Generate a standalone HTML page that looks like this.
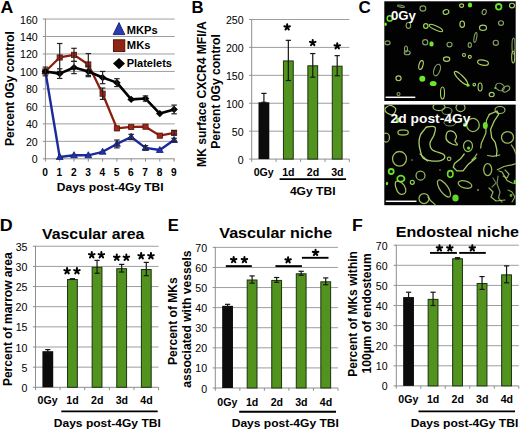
<!DOCTYPE html>
<html><head><meta charset="utf-8"><style>
html,body{margin:0;padding:0;background:#fff;width:520px;height:431px;overflow:hidden}
svg{display:block;font-family:"Liberation Sans", sans-serif}
</style></head><body>
<svg width="520" height="431" viewBox="0 0 520 431" font-family='"Liberation Sans", sans-serif'>
<rect width="520" height="431" fill="#fff"/>
<line x1="42.80" y1="158.80" x2="45.40" y2="158.80" stroke="#8e8e8e" stroke-width="1"/>
<text x="31.82" y="163.30" font-size="10.6" font-weight="normal" fill="#000">0</text>
<line x1="45.40" y1="141.33" x2="174.70" y2="141.33" stroke="#9e9e9e" stroke-width="1"/>
<line x1="42.80" y1="141.33" x2="45.40" y2="141.33" stroke="#8e8e8e" stroke-width="1"/>
<text x="25.92" y="145.83" font-size="10.6" font-weight="normal" fill="#000">20</text>
<line x1="45.40" y1="123.86" x2="174.70" y2="123.86" stroke="#9e9e9e" stroke-width="1"/>
<line x1="42.80" y1="123.86" x2="45.40" y2="123.86" stroke="#8e8e8e" stroke-width="1"/>
<text x="25.92" y="128.36" font-size="10.6" font-weight="normal" fill="#000">40</text>
<line x1="45.40" y1="106.39" x2="174.70" y2="106.39" stroke="#9e9e9e" stroke-width="1"/>
<line x1="42.80" y1="106.39" x2="45.40" y2="106.39" stroke="#8e8e8e" stroke-width="1"/>
<text x="25.92" y="110.89" font-size="10.6" font-weight="normal" fill="#000">60</text>
<line x1="45.40" y1="88.92" x2="174.70" y2="88.92" stroke="#9e9e9e" stroke-width="1"/>
<line x1="42.80" y1="88.92" x2="45.40" y2="88.92" stroke="#8e8e8e" stroke-width="1"/>
<text x="25.92" y="93.42" font-size="10.6" font-weight="normal" fill="#000">80</text>
<line x1="45.40" y1="71.45" x2="174.70" y2="71.45" stroke="#9e9e9e" stroke-width="1"/>
<line x1="42.80" y1="71.45" x2="45.40" y2="71.45" stroke="#8e8e8e" stroke-width="1"/>
<text x="20.03" y="75.95" font-size="10.6" font-weight="normal" fill="#000">100</text>
<line x1="45.40" y1="53.98" x2="174.70" y2="53.98" stroke="#9e9e9e" stroke-width="1"/>
<line x1="42.80" y1="53.98" x2="45.40" y2="53.98" stroke="#8e8e8e" stroke-width="1"/>
<text x="20.03" y="58.48" font-size="10.6" font-weight="normal" fill="#000">120</text>
<line x1="45.40" y1="36.51" x2="174.70" y2="36.51" stroke="#9e9e9e" stroke-width="1"/>
<line x1="42.80" y1="36.51" x2="45.40" y2="36.51" stroke="#8e8e8e" stroke-width="1"/>
<text x="20.03" y="41.01" font-size="10.6" font-weight="normal" fill="#000">140</text>
<line x1="45.40" y1="19.04" x2="174.70" y2="19.04" stroke="#9e9e9e" stroke-width="1"/>
<line x1="42.80" y1="19.04" x2="45.40" y2="19.04" stroke="#8e8e8e" stroke-width="1"/>
<text x="20.03" y="23.54" font-size="10.6" font-weight="normal" fill="#000">160</text>
<line x1="45.40" y1="18.54" x2="45.40" y2="159.30" stroke="#8e8e8e" stroke-width="1"/>
<line x1="45.40" y1="158.80" x2="174.70" y2="158.80" stroke="#8e8e8e" stroke-width="1"/>
<line x1="45.40" y1="158.80" x2="45.40" y2="161.60" stroke="#8e8e8e" stroke-width="1"/>
<text x="42.27" y="176.40" font-size="10.2" font-weight="bold" fill="#000">0</text>
<line x1="59.70" y1="158.80" x2="59.70" y2="161.60" stroke="#8e8e8e" stroke-width="1"/>
<text x="56.38" y="176.40" font-size="10.2" font-weight="bold" fill="#000">1</text>
<line x1="74.00" y1="158.80" x2="74.00" y2="161.60" stroke="#8e8e8e" stroke-width="1"/>
<text x="70.89" y="176.40" font-size="10.2" font-weight="bold" fill="#000">2</text>
<line x1="88.30" y1="158.80" x2="88.30" y2="161.60" stroke="#8e8e8e" stroke-width="1"/>
<text x="85.23" y="176.40" font-size="10.2" font-weight="bold" fill="#000">3</text>
<line x1="102.60" y1="158.80" x2="102.60" y2="161.60" stroke="#8e8e8e" stroke-width="1"/>
<text x="99.41" y="176.40" font-size="10.2" font-weight="bold" fill="#000">4</text>
<line x1="116.90" y1="158.80" x2="116.90" y2="161.60" stroke="#8e8e8e" stroke-width="1"/>
<text x="113.75" y="176.40" font-size="10.2" font-weight="bold" fill="#000">5</text>
<line x1="131.20" y1="158.80" x2="131.20" y2="161.60" stroke="#8e8e8e" stroke-width="1"/>
<text x="128.06" y="176.40" font-size="10.2" font-weight="bold" fill="#000">6</text>
<line x1="145.50" y1="158.80" x2="145.50" y2="161.60" stroke="#8e8e8e" stroke-width="1"/>
<text x="142.37" y="176.40" font-size="10.2" font-weight="bold" fill="#000">7</text>
<line x1="159.80" y1="158.80" x2="159.80" y2="161.60" stroke="#8e8e8e" stroke-width="1"/>
<text x="156.66" y="176.40" font-size="10.2" font-weight="bold" fill="#000">8</text>
<line x1="174.10" y1="158.80" x2="174.10" y2="161.60" stroke="#8e8e8e" stroke-width="1"/>
<text x="170.98" y="176.40" font-size="10.2" font-weight="bold" fill="#000">9</text>
<text x="56.80" y="190.90" font-size="11.3" font-weight="bold" fill="#000" textLength="106.81" lengthAdjust="spacingAndGlyphs">Days post-4Gy TBI</text>
<text transform="translate(14.00,146.01) rotate(-90)" font-size="13" font-weight="bold" fill="#000" textLength="114.76" lengthAdjust="spacingAndGlyphs">Percent 0Gy control</text>
<text x="0.56" y="13.40" font-size="17.1" font-weight="bold" fill="#000" textLength="12.81" lengthAdjust="spacingAndGlyphs">A</text>
<polyline points="45.40,71.45 59.70,157.05 74.00,155.31 88.30,155.31 102.60,151.81 116.90,143.95 131.20,136.96 145.50,147.88 159.80,150.06 174.10,140.02" fill="none" stroke="#1c2a9c" stroke-width="2.4" stroke-linejoin="round"/>
<polygon points="45.40,67.85 48.80,73.85 42.00,73.85" fill="#2233aa" stroke="#101a70" stroke-width="0.8"/>
<polygon points="59.70,153.45 63.10,159.45 56.30,159.45" fill="#2233aa" stroke="#101a70" stroke-width="0.8"/>
<polygon points="74.00,151.71 77.40,157.71 70.60,157.71" fill="#2233aa" stroke="#101a70" stroke-width="0.8"/>
<polygon points="88.30,151.71 91.70,157.71 84.90,157.71" fill="#2233aa" stroke="#101a70" stroke-width="0.8"/>
<polygon points="102.60,148.21 106.00,154.21 99.20,154.21" fill="#2233aa" stroke="#101a70" stroke-width="0.8"/>
<polygon points="116.90,140.35 120.30,146.35 113.50,146.35" fill="#2233aa" stroke="#101a70" stroke-width="0.8"/>
<polygon points="131.20,133.36 134.60,139.36 127.80,139.36" fill="#2233aa" stroke="#101a70" stroke-width="0.8"/>
<polygon points="145.50,144.28 148.90,150.28 142.10,150.28" fill="#2233aa" stroke="#101a70" stroke-width="0.8"/>
<polygon points="159.80,146.47 163.20,152.47 156.40,152.47" fill="#2233aa" stroke="#101a70" stroke-width="0.8"/>
<polygon points="174.10,136.42 177.50,142.42 170.70,142.42" fill="#2233aa" stroke="#101a70" stroke-width="0.8"/>
<line x1="116.90" y1="140.02" x2="116.90" y2="147.88" stroke="#222" stroke-width="1.2"/>
<line x1="114.15" y1="140.02" x2="119.65" y2="140.02" stroke="#222" stroke-width="1.2"/>
<line x1="114.15" y1="147.88" x2="119.65" y2="147.88" stroke="#222" stroke-width="1.2"/>
<line x1="131.20" y1="134.34" x2="131.20" y2="139.58" stroke="#222" stroke-width="1.2"/>
<line x1="128.45" y1="134.34" x2="133.95" y2="134.34" stroke="#222" stroke-width="1.2"/>
<line x1="128.45" y1="139.58" x2="133.95" y2="139.58" stroke="#222" stroke-width="1.2"/>
<line x1="145.50" y1="145.70" x2="145.50" y2="150.07" stroke="#222" stroke-width="1.2"/>
<line x1="142.75" y1="145.70" x2="148.25" y2="145.70" stroke="#222" stroke-width="1.2"/>
<line x1="142.75" y1="150.07" x2="148.25" y2="150.07" stroke="#222" stroke-width="1.2"/>
<line x1="174.10" y1="138.27" x2="174.10" y2="141.77" stroke="#222" stroke-width="1.2"/>
<line x1="171.35" y1="138.27" x2="176.85" y2="138.27" stroke="#222" stroke-width="1.2"/>
<line x1="171.35" y1="141.77" x2="176.85" y2="141.77" stroke="#222" stroke-width="1.2"/>
<polyline points="45.40,71.45 59.70,57.47 74.00,54.85 88.30,64.46 102.60,93.72 116.90,128.40 131.20,126.92 145.50,126.66 159.80,135.65 174.10,132.77" fill="none" stroke="#8a1f10" stroke-width="2.3" stroke-linejoin="round"/>
<rect x="42.80" y="68.85" width="5.20" height="5.20" fill="#9a2a18" stroke="#5a1008" stroke-width="0.8"/>
<rect x="57.10" y="54.87" width="5.20" height="5.20" fill="#9a2a18" stroke="#5a1008" stroke-width="0.8"/>
<rect x="71.40" y="52.25" width="5.20" height="5.20" fill="#9a2a18" stroke="#5a1008" stroke-width="0.8"/>
<rect x="85.70" y="61.86" width="5.20" height="5.20" fill="#9a2a18" stroke="#5a1008" stroke-width="0.8"/>
<rect x="100.00" y="91.12" width="5.20" height="5.20" fill="#9a2a18" stroke="#5a1008" stroke-width="0.8"/>
<rect x="114.30" y="125.80" width="5.20" height="5.20" fill="#9a2a18" stroke="#5a1008" stroke-width="0.8"/>
<rect x="128.60" y="124.32" width="5.20" height="5.20" fill="#9a2a18" stroke="#5a1008" stroke-width="0.8"/>
<rect x="142.90" y="124.06" width="5.20" height="5.20" fill="#9a2a18" stroke="#5a1008" stroke-width="0.8"/>
<rect x="157.20" y="133.05" width="5.20" height="5.20" fill="#9a2a18" stroke="#5a1008" stroke-width="0.8"/>
<rect x="171.50" y="130.17" width="5.20" height="5.20" fill="#9a2a18" stroke="#5a1008" stroke-width="0.8"/>
<line x1="59.70" y1="43.50" x2="59.70" y2="71.45" stroke="#222" stroke-width="1.2"/>
<line x1="56.95" y1="43.50" x2="62.45" y2="43.50" stroke="#222" stroke-width="1.2"/>
<line x1="56.95" y1="71.45" x2="62.45" y2="71.45" stroke="#222" stroke-width="1.2"/>
<line x1="74.00" y1="48.30" x2="74.00" y2="61.40" stroke="#222" stroke-width="1.2"/>
<line x1="71.25" y1="48.30" x2="76.75" y2="48.30" stroke="#222" stroke-width="1.2"/>
<line x1="71.25" y1="61.40" x2="76.75" y2="61.40" stroke="#222" stroke-width="1.2"/>
<line x1="88.30" y1="53.54" x2="88.30" y2="75.38" stroke="#222" stroke-width="1.2"/>
<line x1="85.55" y1="53.54" x2="91.05" y2="53.54" stroke="#222" stroke-width="1.2"/>
<line x1="85.55" y1="75.38" x2="91.05" y2="75.38" stroke="#222" stroke-width="1.2"/>
<line x1="102.60" y1="88.05" x2="102.60" y2="99.40" stroke="#222" stroke-width="1.2"/>
<line x1="99.85" y1="88.05" x2="105.35" y2="88.05" stroke="#222" stroke-width="1.2"/>
<line x1="99.85" y1="99.40" x2="105.35" y2="99.40" stroke="#222" stroke-width="1.2"/>
<line x1="174.10" y1="130.59" x2="174.10" y2="134.95" stroke="#222" stroke-width="1.2"/>
<line x1="171.35" y1="130.59" x2="176.85" y2="130.59" stroke="#222" stroke-width="1.2"/>
<line x1="171.35" y1="134.95" x2="176.85" y2="134.95" stroke="#222" stroke-width="1.2"/>
<polyline points="45.40,71.45 59.70,73.63 74.00,67.52 88.30,71.45 102.60,77.56 116.90,82.63 131.20,99.40 145.50,98.53 159.80,113.55 174.10,109.45" fill="none" stroke="#000" stroke-width="2.6" stroke-linejoin="round"/>
<polygon points="45.40,67.85 49.20,71.45 45.40,75.05 41.60,71.45" fill="#000"/>
<polygon points="59.70,70.03 63.50,73.63 59.70,77.23 55.90,73.63" fill="#000"/>
<polygon points="74.00,63.92 77.80,67.52 74.00,71.12 70.20,67.52" fill="#000"/>
<polygon points="88.30,67.85 92.10,71.45 88.30,75.05 84.50,71.45" fill="#000"/>
<polygon points="102.60,73.96 106.40,77.56 102.60,81.16 98.80,77.56" fill="#000"/>
<polygon points="116.90,79.03 120.70,82.63 116.90,86.23 113.10,82.63" fill="#000"/>
<polygon points="131.20,95.80 135.00,99.40 131.20,103.00 127.40,99.40" fill="#000"/>
<polygon points="145.50,94.93 149.30,98.53 145.50,102.13 141.70,98.53" fill="#000"/>
<polygon points="159.80,109.95 163.60,113.55 159.80,117.15 156.00,113.55" fill="#000"/>
<polygon points="174.10,105.85 177.90,109.45 174.10,113.05 170.30,109.45" fill="#000"/>
<line x1="45.40" y1="67.08" x2="45.40" y2="75.82" stroke="#222" stroke-width="1.2"/>
<line x1="42.65" y1="67.08" x2="48.15" y2="67.08" stroke="#222" stroke-width="1.2"/>
<line x1="42.65" y1="75.82" x2="48.15" y2="75.82" stroke="#222" stroke-width="1.2"/>
<line x1="59.70" y1="68.83" x2="59.70" y2="78.44" stroke="#222" stroke-width="1.2"/>
<line x1="56.95" y1="68.83" x2="62.45" y2="68.83" stroke="#222" stroke-width="1.2"/>
<line x1="56.95" y1="78.44" x2="62.45" y2="78.44" stroke="#222" stroke-width="1.2"/>
<line x1="74.00" y1="61.40" x2="74.00" y2="73.63" stroke="#222" stroke-width="1.2"/>
<line x1="71.25" y1="61.40" x2="76.75" y2="61.40" stroke="#222" stroke-width="1.2"/>
<line x1="71.25" y1="73.63" x2="76.75" y2="73.63" stroke="#222" stroke-width="1.2"/>
<line x1="88.30" y1="66.21" x2="88.30" y2="76.69" stroke="#222" stroke-width="1.2"/>
<line x1="85.55" y1="66.21" x2="91.05" y2="66.21" stroke="#222" stroke-width="1.2"/>
<line x1="85.55" y1="76.69" x2="91.05" y2="76.69" stroke="#222" stroke-width="1.2"/>
<line x1="102.60" y1="71.45" x2="102.60" y2="83.68" stroke="#222" stroke-width="1.2"/>
<line x1="99.85" y1="71.45" x2="105.35" y2="71.45" stroke="#222" stroke-width="1.2"/>
<line x1="99.85" y1="83.68" x2="105.35" y2="83.68" stroke="#222" stroke-width="1.2"/>
<line x1="116.90" y1="78.70" x2="116.90" y2="86.56" stroke="#222" stroke-width="1.2"/>
<line x1="114.15" y1="78.70" x2="119.65" y2="78.70" stroke="#222" stroke-width="1.2"/>
<line x1="114.15" y1="86.56" x2="119.65" y2="86.56" stroke="#222" stroke-width="1.2"/>
<line x1="145.50" y1="95.91" x2="145.50" y2="101.15" stroke="#222" stroke-width="1.2"/>
<line x1="142.75" y1="95.91" x2="148.25" y2="95.91" stroke="#222" stroke-width="1.2"/>
<line x1="142.75" y1="101.15" x2="148.25" y2="101.15" stroke="#222" stroke-width="1.2"/>
<line x1="174.10" y1="105.08" x2="174.10" y2="113.81" stroke="#222" stroke-width="1.2"/>
<line x1="171.35" y1="105.08" x2="176.85" y2="105.08" stroke="#222" stroke-width="1.2"/>
<line x1="171.35" y1="113.81" x2="176.85" y2="113.81" stroke="#222" stroke-width="1.2"/>
<polygon points="119,22.6 124.8,34.6 113.2,34.6" fill="#2a3ab0" stroke="#141c70" stroke-width="0.9"/>
<rect x="113.40" y="39.80" width="11.40" height="11.80" fill="#8e2414" stroke="#4a0c04" stroke-width="0.9"/>
<polygon points="119,58 125,63.6 119,69.2 113,63.6" fill="#000"/>
<text x="126.86" y="33.90" font-size="11" font-weight="bold" fill="#000" textLength="30.80" lengthAdjust="spacingAndGlyphs">MKPs</text>
<text x="126.85" y="48.90" font-size="11" font-weight="bold" fill="#000" textLength="23.61" lengthAdjust="spacingAndGlyphs">MKs</text>
<text x="126.66" y="66.60" font-size="11" font-weight="bold" fill="#000" textLength="45.29" lengthAdjust="spacingAndGlyphs">Platelets</text>
<line x1="249.10" y1="159.10" x2="251.70" y2="159.10" stroke="#8e8e8e" stroke-width="1"/>
<text x="237.72" y="163.60" font-size="10.6" font-weight="normal" fill="#000">0</text>
<line x1="251.70" y1="131.18" x2="349.40" y2="131.18" stroke="#9e9e9e" stroke-width="1"/>
<line x1="249.10" y1="131.18" x2="251.70" y2="131.18" stroke="#8e8e8e" stroke-width="1"/>
<text x="231.82" y="135.68" font-size="10.6" font-weight="normal" fill="#000">50</text>
<line x1="251.70" y1="103.26" x2="349.40" y2="103.26" stroke="#9e9e9e" stroke-width="1"/>
<line x1="249.10" y1="103.26" x2="251.70" y2="103.26" stroke="#8e8e8e" stroke-width="1"/>
<text x="225.93" y="107.76" font-size="10.6" font-weight="normal" fill="#000">100</text>
<line x1="251.70" y1="75.34" x2="349.40" y2="75.34" stroke="#9e9e9e" stroke-width="1"/>
<line x1="249.10" y1="75.34" x2="251.70" y2="75.34" stroke="#8e8e8e" stroke-width="1"/>
<text x="225.93" y="79.84" font-size="10.6" font-weight="normal" fill="#000">150</text>
<line x1="251.70" y1="47.42" x2="349.40" y2="47.42" stroke="#9e9e9e" stroke-width="1"/>
<line x1="249.10" y1="47.42" x2="251.70" y2="47.42" stroke="#8e8e8e" stroke-width="1"/>
<text x="225.93" y="51.92" font-size="10.6" font-weight="normal" fill="#000">200</text>
<line x1="251.70" y1="19.50" x2="349.40" y2="19.50" stroke="#9e9e9e" stroke-width="1"/>
<line x1="249.10" y1="19.50" x2="251.70" y2="19.50" stroke="#8e8e8e" stroke-width="1"/>
<text x="225.93" y="24.00" font-size="10.6" font-weight="normal" fill="#000">250</text>
<line x1="251.70" y1="19.00" x2="251.70" y2="159.60" stroke="#8e8e8e" stroke-width="1"/>
<line x1="251.70" y1="159.10" x2="349.40" y2="159.10" stroke="#8e8e8e" stroke-width="1"/>
<line x1="251.70" y1="159.10" x2="251.70" y2="161.90" stroke="#8e8e8e" stroke-width="1"/>
<line x1="276.12" y1="159.10" x2="276.12" y2="161.90" stroke="#8e8e8e" stroke-width="1"/>
<line x1="300.55" y1="159.10" x2="300.55" y2="161.90" stroke="#8e8e8e" stroke-width="1"/>
<line x1="324.97" y1="159.10" x2="324.97" y2="161.90" stroke="#8e8e8e" stroke-width="1"/>
<line x1="349.40" y1="159.10" x2="349.40" y2="161.90" stroke="#8e8e8e" stroke-width="1"/>
<rect x="258.51" y="102.31" width="10.80" height="56.79" fill="#0c0c0c"/>
<line x1="263.91" y1="93.38" x2="263.91" y2="102.31" stroke="#151515" stroke-width="1.2"/>
<line x1="261.31" y1="93.38" x2="266.51" y2="93.38" stroke="#151515" stroke-width="1.2"/>
<line x1="261.31" y1="102.31" x2="266.51" y2="102.31" stroke="#151515" stroke-width="1.2"/>
<text x="253.71" y="176.30" font-size="10.6" font-weight="bold" fill="#000">0Gy</text>
<rect x="283.44" y="60.93" width="9.80" height="98.17" fill="#52921f" stroke="#1c3210" stroke-width="1"/>
<line x1="288.34" y1="40.33" x2="288.34" y2="80.53" stroke="#151515" stroke-width="1.2"/>
<line x1="285.74" y1="40.33" x2="290.94" y2="40.33" stroke="#151515" stroke-width="1.2"/>
<line x1="285.74" y1="80.53" x2="290.94" y2="80.53" stroke="#151515" stroke-width="1.2"/>
<text x="282.17" y="176.30" font-size="10.6" font-weight="bold" fill="#000">1d</text>
<rect x="307.86" y="65.79" width="9.80" height="93.31" fill="#52921f" stroke="#1c3210" stroke-width="1"/>
<line x1="312.76" y1="53.56" x2="312.76" y2="77.18" stroke="#151515" stroke-width="1.2"/>
<line x1="310.16" y1="53.56" x2="315.36" y2="53.56" stroke="#151515" stroke-width="1.2"/>
<line x1="310.16" y1="77.18" x2="315.36" y2="77.18" stroke="#151515" stroke-width="1.2"/>
<text x="306.74" y="176.30" font-size="10.6" font-weight="bold" fill="#000">2d</text>
<rect x="332.29" y="66.18" width="9.80" height="92.92" fill="#52921f" stroke="#1c3210" stroke-width="1"/>
<line x1="337.19" y1="55.63" x2="337.19" y2="75.73" stroke="#151515" stroke-width="1.2"/>
<line x1="334.59" y1="55.63" x2="339.79" y2="55.63" stroke="#151515" stroke-width="1.2"/>
<line x1="334.59" y1="75.73" x2="339.79" y2="75.73" stroke="#151515" stroke-width="1.2"/>
<text x="331.23" y="176.30" font-size="10.6" font-weight="bold" fill="#000">3d</text>
<line x1="279.60" y1="179.20" x2="346.10" y2="179.20" stroke="#000" stroke-width="1.8"/>
<text x="289.92" y="195.20" font-size="11" font-weight="bold" fill="#000" textLength="45.59" lengthAdjust="spacingAndGlyphs">4Gy TBI</text>
<path d="M287.15,27.20 L287.15,24.30 M287.15,27.20 L289.91,26.30 M287.15,27.20 L288.85,29.55 M287.15,27.20 L285.45,29.55 M287.15,27.20 L284.39,26.30 " stroke="#000" stroke-width="2.0" stroke-linecap="round" fill="none"/>
<path d="M312.70,42.80 L312.70,39.90 M312.70,42.80 L315.46,41.90 M312.70,42.80 L314.40,45.15 M312.70,42.80 L311.00,45.15 M312.70,42.80 L309.94,41.90 " stroke="#000" stroke-width="2.0" stroke-linecap="round" fill="none"/>
<path d="M337.25,46.10 L337.25,43.20 M337.25,46.10 L340.01,45.20 M337.25,46.10 L338.95,48.45 M337.25,46.10 L335.55,48.45 M337.25,46.10 L334.49,45.20 " stroke="#000" stroke-width="2.0" stroke-linecap="round" fill="none"/>
<text transform="translate(206.40,166.91) rotate(-90)" font-size="13" font-weight="bold" fill="#000" textLength="145.53" lengthAdjust="spacingAndGlyphs">MK surface CXCR4 MFI/A</text>
<text transform="translate(219.80,148.81) rotate(-90)" font-size="13" font-weight="bold" fill="#000" textLength="114.66" lengthAdjust="spacingAndGlyphs">Percent 0Gy control</text>
<text x="191.48" y="13.40" font-size="17.1" font-weight="bold" fill="#000" textLength="12.08" lengthAdjust="spacingAndGlyphs">B</text>
<text x="358.40" y="13.30" font-size="17.1" font-weight="bold" fill="#000" textLength="12.26" lengthAdjust="spacingAndGlyphs">C</text>
<rect x="384.3" y="1.3" width="131.4" height="99.7" fill="#020202"/>
<rect x="384.3" y="104.6" width="131.4" height="100.6" fill="#020202"/>
<clipPath id="c1"><rect x="384.3" y="1.3" width="131.4" height="99.7"/></clipPath>
<clipPath id="c2"><rect x="384.3" y="104.6" width="131.4" height="100.6"/></clipPath>
<g clip-path="url(#c1)">
<ellipse cx="422.9" cy="8.5" rx="2.9" ry="2.6" transform="rotate(0 422.9 8.5)" fill="none" stroke="#8aa866" stroke-width="1.15" opacity="0.95"/>
<ellipse cx="408.4" cy="25.4" rx="2.3" ry="2.9" transform="rotate(0 408.4 25.4)" fill="none" stroke="#8aa866" stroke-width="1.15" opacity="0.95"/>
<ellipse cx="387.5" cy="42.8" rx="2.6" ry="2.0" transform="rotate(0 387.5 42.8)" fill="none" stroke="#8aa866" stroke-width="1.15" opacity="0.95"/>
<ellipse cx="425.2" cy="42.2" rx="2.6" ry="2.6" transform="rotate(0 425.2 42.2)" fill="none" stroke="#8aa866" stroke-width="1.15" opacity="0.95"/>
<ellipse cx="401.0" cy="6.2" rx="3.5" ry="1.0" transform="rotate(10 401.0 6.2)" fill="none" stroke="#8aa866" stroke-width="1.15" opacity="0.95"/>
<ellipse cx="406.0" cy="49.0" rx="1.5" ry="3.0" transform="rotate(0 406.0 49.0)" fill="none" stroke="#8aa866" stroke-width="1.15" opacity="0.95"/>
<ellipse cx="446.0" cy="12.0" rx="2.9" ry="2.3" transform="rotate(-20 446.0 12.0)" fill="none" stroke="#b2d86c" stroke-width="1.15" opacity="0.95"/>
<ellipse cx="462.2" cy="24.2" rx="2.3" ry="3.2" transform="rotate(0 462.2 24.2)" fill="none" stroke="#b2d86c" stroke-width="1.15" opacity="0.95"/>
<ellipse cx="436.0" cy="28.0" rx="7.3" ry="2.0" transform="rotate(25 436.0 28.0)" fill="none" stroke="#b2d86c" stroke-width="1.15" opacity="0.95"/>
<ellipse cx="449.5" cy="44.5" rx="2.5" ry="2.3" transform="rotate(0 449.5 44.5)" fill="none" stroke="#8aa866" stroke-width="1.15" opacity="0.95"/>
<ellipse cx="469.8" cy="45.0" rx="1.6" ry="2.4" transform="rotate(0 469.8 45.0)" fill="none" stroke="#8aa866" stroke-width="1.15" opacity="0.95"/>
<ellipse cx="461.6" cy="5.6" rx="2.0" ry="1.8" transform="rotate(0 461.6 5.6)" fill="none" stroke="#b2d86c" stroke-width="1.15" opacity="0.95"/>
<ellipse cx="484.2" cy="12.0" rx="2.0" ry="2.6" transform="rotate(20 484.2 12.0)" fill="none" stroke="#8aa866" stroke-width="1.15" opacity="0.95"/>
<ellipse cx="512.0" cy="5.6" rx="2.5" ry="2.3" transform="rotate(0 512.0 5.6)" fill="none" stroke="#b2d86c" stroke-width="1.15" opacity="0.95"/>
<ellipse cx="501.0" cy="23.0" rx="2.5" ry="2.3" transform="rotate(0 501.0 23.0)" fill="none" stroke="#8aa866" stroke-width="1.15" opacity="0.95"/>
<ellipse cx="483.0" cy="27.7" rx="3.5" ry="2.6" transform="rotate(0 483.0 27.7)" fill="none" stroke="#b2d86c" stroke-width="1.15" opacity="0.95"/>
<ellipse cx="495.8" cy="42.8" rx="2.6" ry="2.6" transform="rotate(0 495.8 42.8)" fill="none" stroke="#8aa866" stroke-width="1.15" opacity="0.95"/>
<ellipse cx="513.5" cy="46.0" rx="1.5" ry="8.0" transform="rotate(0 513.5 46.0)" fill="none" stroke="#8aa866" stroke-width="1.15" opacity="0.95"/>
<ellipse cx="475.4" cy="37.5" rx="1.3" ry="5.0" transform="rotate(10 475.4 37.5)" fill="none" stroke="#8aa866" stroke-width="1.15" opacity="0.95"/>
<ellipse cx="407.2" cy="52.7" rx="3.0" ry="2.0" transform="rotate(0 407.2 52.7)" fill="none" stroke="#8aa866" stroke-width="1.15" opacity="0.95"/>
<ellipse cx="421.0" cy="65.0" rx="2.0" ry="4.5" transform="rotate(15 421.0 65.0)" fill="none" stroke="#b2d86c" stroke-width="1.15" opacity="0.95"/>
<ellipse cx="398.5" cy="78.3" rx="2.6" ry="2.4" transform="rotate(0 398.5 78.3)" fill="none" stroke="#b2d86c" stroke-width="1.15" opacity="0.95"/>
<ellipse cx="398.5" cy="94.0" rx="1.5" ry="1.5" transform="rotate(0 398.5 94.0)" fill="none" stroke="#8aa866" stroke-width="1.15" opacity="0.95"/>
<ellipse cx="446.6" cy="59.1" rx="3.2" ry="2.3" transform="rotate(0 446.6 59.1)" fill="none" stroke="#b2d86c" stroke-width="1.15" opacity="0.95"/>
<ellipse cx="437.0" cy="70.0" rx="3.0" ry="6.0" transform="rotate(20 437.0 70.0)" fill="none" stroke="#8aa866" stroke-width="1.15" opacity="0.95"/>
<ellipse cx="442.5" cy="93.0" rx="2.0" ry="6.0" transform="rotate(0 442.5 93.0)" fill="none" stroke="#b2d86c" stroke-width="1.15" opacity="0.95"/>
<ellipse cx="461.0" cy="78.0" rx="9.0" ry="2.5" transform="rotate(45 461.0 78.0)" fill="none" stroke="#b2d86c" stroke-width="1.15" opacity="0.95"/>
<ellipse cx="464.0" cy="55.0" rx="1.5" ry="1.5" transform="rotate(0 464.0 55.0)" fill="none" stroke="#b2d86c" stroke-width="1.15" opacity="0.95"/>
<ellipse cx="469.8" cy="56.8" rx="1.5" ry="1.5" transform="rotate(0 469.8 56.8)" fill="none" stroke="#b2d86c" stroke-width="1.15" opacity="0.95"/>
<ellipse cx="483.0" cy="62.6" rx="5.5" ry="2.5" transform="rotate(10 483.0 62.6)" fill="none" stroke="#b2d86c" stroke-width="1.15" opacity="0.95"/>
<ellipse cx="513.2" cy="57.0" rx="1.5" ry="6.0" transform="rotate(0 513.2 57.0)" fill="none" stroke="#b2d86c" stroke-width="1.15" opacity="0.95"/>
<ellipse cx="480.1" cy="87.0" rx="2.0" ry="4.0" transform="rotate(0 480.1 87.0)" fill="none" stroke="#b2d86c" stroke-width="1.15" opacity="0.95"/>
<ellipse cx="474.3" cy="84.6" rx="1.3" ry="1.3" transform="rotate(0 474.3 84.6)" fill="none" stroke="#b2d86c" stroke-width="1.15" opacity="0.95"/>
<ellipse cx="500.0" cy="87.0" rx="4.5" ry="3.5" transform="rotate(30 500.0 87.0)" fill="none" stroke="#8aa866" stroke-width="1.15" opacity="0.95"/>
<ellipse cx="506.0" cy="89.0" rx="4.0" ry="2.5" transform="rotate(-30 506.0 89.0)" fill="none" stroke="#8aa866" stroke-width="1.15" opacity="0.95"/>
<ellipse cx="491.7" cy="94.5" rx="2.5" ry="2.2" transform="rotate(0 491.7 94.5)" fill="none" stroke="#b2d86c" stroke-width="1.15" opacity="0.95"/>
<ellipse cx="389.8" cy="18.4" rx="2.6" ry="2.6" transform="rotate(0 389.8 18.4)" fill="none" stroke="#66e02a" stroke-width="1.5" opacity="1"/>
<ellipse cx="498.7" cy="6.8" rx="2.8" ry="2.8" transform="rotate(0 498.7 6.8)" fill="none" stroke="#66e02a" stroke-width="1.8" opacity="1"/>
<ellipse cx="425.8" cy="26.0" rx="2.2" ry="2.4" transform="rotate(0 425.8 26.0)" fill="none" stroke="#8fd050" stroke-width="1.3" opacity="1"/>
<ellipse cx="431.5" cy="43.9" rx="2.2" ry="2.6" fill="#6ae82a" opacity="1"/>
<ellipse cx="422.3" cy="78.8" rx="3.0" ry="3.0" fill="#6ae82a" opacity="1"/>
<ellipse cx="433.2" cy="83.5" rx="3.4" ry="2.6" fill="#6ae82a" opacity="1"/>
<ellipse cx="470.0" cy="5.0" rx="2.2" ry="2.6" fill="#6ae82a" opacity="1"/>
<ellipse cx="385.5" cy="24.2" rx="1.3" ry="1.8" fill="#6ae82a" opacity="1"/>
<ellipse cx="468.0" cy="85.2" rx="1.6" ry="1.6" fill="#6ae82a" opacity="1"/>
<ellipse cx="495.2" cy="88.1" rx="1.0" ry="1.0" fill="#6ae82a" opacity="1"/>
</g>
<g clip-path="url(#c2)">
<path d="M427.0,127.0 C428.8,126.6 433.8,125.9 435.0,127.2 C436.2,128.5 434.8,132.4 434.0,135.0 C433.2,137.6 430.2,140.5 430.0,143.0 C429.8,145.5 430.3,148.2 432.5,150.0 C434.7,151.8 441.0,152.7 443.0,154.0 C445.0,155.3 445.0,156.9 444.6,158.0 C444.2,159.1 442.9,160.1 440.6,160.6 C438.3,161.1 433.9,161.2 431.0,160.8 C428.1,160.4 424.8,159.6 423.0,158.0 C421.2,156.4 421.1,153.5 420.4,151.0 C419.7,148.5 419.0,145.7 419.0,143.0 C419.0,140.3 419.5,137.2 420.4,135.0 C421.3,132.8 423.3,130.9 424.4,129.6 C425.5,128.3 425.2,127.4 427.0,127.0 Z" fill="none" stroke="#b2d86c" stroke-width="1.3" opacity="0.95" stroke-linejoin="round" stroke-linecap="round"/>
<path d="M390.0,105.5 C391.8,105.4 395.1,107.1 395.6,108.6 C396.2,110.1 394.7,113.6 393.3,114.4 C391.9,115.2 388.9,114.2 387.5,113.3 C386.1,112.4 384.6,110.3 385.0,109.0 C385.4,107.7 388.2,105.6 390.0,105.5 Z" fill="none" stroke="#b2d86c" stroke-width="1.25" opacity="0.9" stroke-linejoin="round" stroke-linecap="round"/>
<ellipse cx="403.1" cy="132.4" rx="5.2" ry="2.6" transform="rotate(0 403.1 132.4)" fill="none" stroke="#b2d86c" stroke-width="1.3" opacity="0.85"/>
<ellipse cx="386.0" cy="137.5" rx="3.5" ry="4.5" transform="rotate(0 386.0 137.5)" fill="none" stroke="#b2d86c" stroke-width="1.25" opacity="0.85"/>
<ellipse cx="399.5" cy="158.8" rx="7.0" ry="7.3" transform="rotate(0 399.5 158.8)" fill="none" stroke="#b2d86c" stroke-width="1.3" opacity="0.85"/>
<ellipse cx="439.0" cy="107.0" rx="6.0" ry="3.5" transform="rotate(0 439.0 107.0)" fill="none" stroke="#b2d86c" stroke-width="1.25" opacity="0.85"/>
<ellipse cx="460.5" cy="107.5" rx="4.5" ry="4.0" transform="rotate(0 460.5 107.5)" fill="none" stroke="#b2d86c" stroke-width="1.25" opacity="0.85"/>
<ellipse cx="450.0" cy="122.5" rx="6.0" ry="3.5" transform="rotate(0 450.0 122.5)" fill="none" stroke="#8aa866" stroke-width="1.0" opacity="0.85"/>
<path d="M446.0,136.0 C446.2,134.5 446.8,132.2 448.0,131.5 C449.2,130.8 452.1,131.0 453.5,131.8 C454.9,132.6 456.2,135.0 456.5,136.5 C456.8,138.0 454.8,139.7 455.0,141.0 C455.2,142.3 458.0,144.1 457.5,144.6 C457.0,145.1 453.8,144.7 452.0,144.0 C450.2,143.3 448.0,141.8 447.0,140.5 C446.0,139.2 445.8,137.5 446.0,136.0 Z" fill="none" stroke="#b2d86c" stroke-width="1.3" opacity="0.95" stroke-linejoin="round" stroke-linecap="round"/>
<ellipse cx="468.0" cy="146.0" rx="4.5" ry="5.5" transform="rotate(0 468.0 146.0)" fill="none" stroke="#b2d86c" stroke-width="1.25" opacity="0.85"/>
<ellipse cx="473.0" cy="125.0" rx="6.3" ry="6.6" transform="rotate(0 473.0 125.0)" fill="none" stroke="#b2d86c" stroke-width="1.3" opacity="0.85"/>
<path d="M489.4,114.4 L497.0,111.0 L498.7,114.4 L494.0,121.4 L490.6,129.5 L491.7,137.6 L495.2,142.3 L497.0,150.4 L496.4,156.0" fill="none" stroke="#b2d86c" stroke-width="1.3" opacity="0.95" stroke-linejoin="round" stroke-linecap="round"/>
<path d="M489.4,114.4 L486.5,120.0 L486.0,127.0 L485.9,133.0 L481.3,143.4 L480.7,148.0" fill="none" stroke="#b2d86c" stroke-width="1.25" opacity="0.9" stroke-linejoin="round" stroke-linecap="round"/>
<ellipse cx="507.5" cy="137.4" rx="6.0" ry="5.8" transform="rotate(0 507.5 137.4)" fill="none" stroke="#b2d86c" stroke-width="1.3" opacity="0.85"/>
<path d="M511.4,145.0 L514.0,149.0 L516.0,154.0" fill="none" stroke="#b2d86c" stroke-width="1.25" opacity="0.85" stroke-linejoin="round" stroke-linecap="round"/>
<path d="M464.2,154.0 L460.5,158.8 L454.5,163.6 L453.3,167.3 L456.9,170.9 L463.0,170.9 L467.8,164.8 L472.0,161.2 L476.0,158.0" fill="none" stroke="#b2d86c" stroke-width="1.3" opacity="0.95" stroke-linejoin="round" stroke-linecap="round"/>
<ellipse cx="449.1" cy="158.8" rx="1.8" ry="1.8" transform="rotate(0 449.1 158.8)" fill="none" stroke="#b2d86c" stroke-width="1.25" opacity="0.85"/>
<ellipse cx="450.3" cy="173.9" rx="2.7" ry="3.3" transform="rotate(0 450.3 173.9)" fill="none" stroke="#66e02a" stroke-width="1.6" opacity="1"/>
<ellipse cx="444.0" cy="188.5" rx="4.0" ry="10.0" transform="rotate(-35 444.0 188.5)" fill="none" stroke="#b2d86c" stroke-width="1.3" opacity="0.85"/>
<ellipse cx="465.0" cy="184.5" rx="7.0" ry="3.5" transform="rotate(15 465.0 184.5)" fill="none" stroke="#b2d86c" stroke-width="1.25" opacity="0.85"/>
<path d="M428.0,197.0 L431.0,201.0 L435.2,204.6" fill="none" stroke="#b2d86c" stroke-width="1.25" opacity="0.85" stroke-linejoin="round" stroke-linecap="round"/>
<ellipse cx="391.2" cy="171.5" rx="2.5" ry="2.5" transform="rotate(0 391.2 171.5)" fill="none" stroke="#66e02a" stroke-width="1.8" opacity="1"/>
<ellipse cx="400.9" cy="178.7" rx="3.6" ry="3.0" transform="rotate(0 400.9 178.7)" fill="none" stroke="#66e02a" stroke-width="1.8" opacity="1"/>
<ellipse cx="387.0" cy="183.5" rx="1.2" ry="1.8" fill="#6ae82a" opacity="1"/>
<path d="M396.0,181.5 C397.0,180.7 400.4,181.8 402.0,183.0 C403.6,184.2 405.3,187.2 405.7,189.0 C406.1,190.8 405.5,192.7 404.5,193.5 C403.5,194.3 400.9,194.7 399.5,193.8 C398.1,192.9 396.6,190.1 396.0,188.0 C395.4,185.9 395.0,182.3 396.0,181.5 Z" fill="none" stroke="#b2d86c" stroke-width="1.25" opacity="0.9" stroke-linejoin="round" stroke-linecap="round"/>
<ellipse cx="412.3" cy="182.3" rx="2.0" ry="2.0" transform="rotate(0 412.3 182.3)" fill="none" stroke="#8fd050" stroke-width="1.2" opacity="1"/>
<ellipse cx="420.5" cy="175.5" rx="4.5" ry="4.5" transform="rotate(0 420.5 175.5)" fill="none" stroke="#b2d86c" stroke-width="1.25" opacity="0.85"/>
<ellipse cx="424.0" cy="198.5" rx="5.0" ry="5.0" transform="rotate(0 424.0 198.5)" fill="none" stroke="#b2d86c" stroke-width="1.25" opacity="0.85"/>
<path d="M420.0,154.0 L424.0,157.5 L427.4,161.0" fill="none" stroke="#b2d86c" stroke-width="1.25" opacity="0.85" stroke-linejoin="round" stroke-linecap="round"/>
<ellipse cx="487.7" cy="169.6" rx="4.0" ry="6.0" transform="rotate(0 487.7 169.6)" fill="none" stroke="#b2d86c" stroke-width="1.3" opacity="0.85"/>
<path d="M472.0,160.0 L475.0,157.0 L476.8,154.0" fill="none" stroke="#b2d86c" stroke-width="1.25" opacity="0.85" stroke-linejoin="round" stroke-linecap="round"/>
<path d="M487.7,155.5 L493.0,156.4 L499.7,155.0" fill="none" stroke="#b2d86c" stroke-width="1.25" opacity="0.85" stroke-linejoin="round" stroke-linecap="round"/>
<path d="M497.3,169.7 L504.0,166.5 L511.8,164.8 L516.0,163.6" fill="none" stroke="#b2d86c" stroke-width="1.25" opacity="0.85" stroke-linejoin="round" stroke-linecap="round"/>
<path d="M499.0,171.0 L502.1,172.0 L507.0,180.5 L512.0,183.0 L516.0,183.5" fill="none" stroke="#b2d86c" stroke-width="1.25" opacity="0.85" stroke-linejoin="round" stroke-linecap="round"/>
<path d="M498.0,176.0 L497.0,184.0 L500.0,192.0 L498.5,198.0 L502.0,202.2" fill="none" stroke="#8aa866" stroke-width="1.2" opacity="0.85" stroke-linejoin="round" stroke-linecap="round"/>
<path d="M489.0,188.0 L493.0,192.0 L491.0,197.0 L496.0,201.0 L505.0,200.0" fill="none" stroke="#b2d86c" stroke-width="1.2" opacity="0.85" stroke-linejoin="round" stroke-linecap="round"/>
<ellipse cx="455.5" cy="198.0" rx="3.2" ry="3.6" fill="#66e02a" opacity="0.95"/>
<ellipse cx="485.3" cy="125.5" rx="2.5" ry="3.5" fill="#66e02a" opacity="1"/>
<ellipse cx="465.0" cy="124.8" rx="2.0" ry="2.2" fill="#66e02a" opacity="0.9"/>
<ellipse cx="468.6" cy="148.1" rx="1.6" ry="1.6" fill="#66e02a" opacity="1"/>
<ellipse cx="398.5" cy="120.2" rx="2.4" ry="2.4" fill="#7ad040" opacity="1"/>
<ellipse cx="515.4" cy="181.7" rx="1.8" ry="2.0" fill="#66e02a" opacity="1"/>
<ellipse cx="511.0" cy="195.5" rx="1.4" ry="1.4" fill="#66e02a" opacity="0.8"/>
<path d="M505.0,170.0 L509.0,174.0 L507.0,178.0 L503.0,176.0" fill="none" stroke="#b2d86c" stroke-width="1.1" opacity="0.8" stroke-linejoin="round" stroke-linecap="round"/>
<path d="M493.0,178.0 L496.0,183.0 L492.0,187.0" fill="none" stroke="#8aa866" stroke-width="1.1" opacity="0.8" stroke-linejoin="round" stroke-linecap="round"/>
<ellipse cx="500.0" cy="110.0" rx="5.0" ry="3.5" transform="rotate(0 500.0 110.0)" fill="none" stroke="#b2d86c" stroke-width="1.2" opacity="0.85"/>
<path d="M508.0,190.0 L512.0,192.0 L515.0,197.0 L512.0,202.0" fill="none" stroke="#b2d86c" stroke-width="1.1" opacity="0.8" stroke-linejoin="round" stroke-linecap="round"/>
<ellipse cx="447.0" cy="111.0" rx="5.0" ry="3.5" transform="rotate(0 447.0 111.0)" fill="none" stroke="#8aa866" stroke-width="1.1" opacity="0.85"/>
<ellipse cx="412.0" cy="160.0" rx="0.8" ry="0.8" fill="#b2d86c" opacity="0.8"/>
<ellipse cx="440.0" cy="170.0" rx="0.8" ry="0.8" fill="#b2d86c" opacity="0.8"/>
<ellipse cx="478.0" cy="190.0" rx="0.9" ry="0.9" fill="#b2d86c" opacity="0.8"/>
</g>
<text x="390.98" y="19.60" font-size="13.2" font-weight="bold" fill="#fff" textLength="24.99" lengthAdjust="spacingAndGlyphs">0Gy</text>
<text x="390.62" y="123.20" font-size="13.4" font-weight="bold" fill="#fff" textLength="79.75" lengthAdjust="spacingAndGlyphs">2d post-4Gy</text>
<line x1="385.60" y1="97.30" x2="415.30" y2="97.30" stroke="#fff" stroke-width="1.5"/>
<line x1="385.80" y1="201.30" x2="416.50" y2="201.30" stroke="#fff" stroke-width="1.5"/>
<text x="-0.20" y="231.10" font-size="17.1" font-weight="bold" fill="#000" textLength="12.95" lengthAdjust="spacingAndGlyphs">D</text>
<text x="41.99" y="239.40" font-size="15.5" font-weight="bold" fill="#000" textLength="102.41" lengthAdjust="spacingAndGlyphs">Vascular area</text>
<line x1="32.90" y1="387.30" x2="35.50" y2="387.30" stroke="#8e8e8e" stroke-width="1"/>
<text x="21.52" y="391.80" font-size="10.6" font-weight="normal" fill="#000">0</text>
<line x1="35.50" y1="367.15" x2="158.60" y2="367.15" stroke="#9e9e9e" stroke-width="1"/>
<line x1="32.90" y1="367.15" x2="35.50" y2="367.15" stroke="#8e8e8e" stroke-width="1"/>
<text x="21.55" y="371.65" font-size="10.6" font-weight="normal" fill="#000">5</text>
<line x1="35.50" y1="347.00" x2="158.60" y2="347.00" stroke="#9e9e9e" stroke-width="1"/>
<line x1="32.90" y1="347.00" x2="35.50" y2="347.00" stroke="#8e8e8e" stroke-width="1"/>
<text x="15.62" y="351.50" font-size="10.6" font-weight="normal" fill="#000">10</text>
<line x1="35.50" y1="326.85" x2="158.60" y2="326.85" stroke="#9e9e9e" stroke-width="1"/>
<line x1="32.90" y1="326.85" x2="35.50" y2="326.85" stroke="#8e8e8e" stroke-width="1"/>
<text x="15.65" y="331.35" font-size="10.6" font-weight="normal" fill="#000">15</text>
<line x1="35.50" y1="306.70" x2="158.60" y2="306.70" stroke="#9e9e9e" stroke-width="1"/>
<line x1="32.90" y1="306.70" x2="35.50" y2="306.70" stroke="#8e8e8e" stroke-width="1"/>
<text x="15.62" y="311.20" font-size="10.6" font-weight="normal" fill="#000">20</text>
<line x1="35.50" y1="286.55" x2="158.60" y2="286.55" stroke="#9e9e9e" stroke-width="1"/>
<line x1="32.90" y1="286.55" x2="35.50" y2="286.55" stroke="#8e8e8e" stroke-width="1"/>
<text x="15.65" y="291.05" font-size="10.6" font-weight="normal" fill="#000">25</text>
<line x1="35.50" y1="266.40" x2="158.60" y2="266.40" stroke="#9e9e9e" stroke-width="1"/>
<line x1="32.90" y1="266.40" x2="35.50" y2="266.40" stroke="#8e8e8e" stroke-width="1"/>
<text x="15.62" y="270.90" font-size="10.6" font-weight="normal" fill="#000">30</text>
<line x1="35.50" y1="246.25" x2="158.60" y2="246.25" stroke="#9e9e9e" stroke-width="1"/>
<line x1="32.90" y1="246.25" x2="35.50" y2="246.25" stroke="#8e8e8e" stroke-width="1"/>
<text x="15.65" y="250.75" font-size="10.6" font-weight="normal" fill="#000">35</text>
<line x1="35.50" y1="245.75" x2="35.50" y2="387.80" stroke="#8e8e8e" stroke-width="1"/>
<line x1="35.50" y1="387.30" x2="158.60" y2="387.30" stroke="#8e8e8e" stroke-width="1"/>
<line x1="35.50" y1="387.30" x2="35.50" y2="390.10" stroke="#8e8e8e" stroke-width="1"/>
<line x1="60.12" y1="387.30" x2="60.12" y2="390.10" stroke="#8e8e8e" stroke-width="1"/>
<line x1="84.74" y1="387.30" x2="84.74" y2="390.10" stroke="#8e8e8e" stroke-width="1"/>
<line x1="109.36" y1="387.30" x2="109.36" y2="390.10" stroke="#8e8e8e" stroke-width="1"/>
<line x1="133.98" y1="387.30" x2="133.98" y2="390.10" stroke="#8e8e8e" stroke-width="1"/>
<line x1="158.60" y1="387.30" x2="158.60" y2="390.10" stroke="#8e8e8e" stroke-width="1"/>
<rect x="42.41" y="351.19" width="10.80" height="36.11" fill="#0c0c0c"/>
<line x1="47.81" y1="349.58" x2="47.81" y2="352.80" stroke="#151515" stroke-width="1.2"/>
<line x1="45.21" y1="349.58" x2="50.41" y2="349.58" stroke="#151515" stroke-width="1.2"/>
<line x1="45.21" y1="352.80" x2="50.41" y2="352.80" stroke="#151515" stroke-width="1.2"/>
<text x="37.61" y="404.10" font-size="10.6" font-weight="bold" fill="#000">0Gy</text>
<rect x="67.53" y="279.51" width="9.80" height="107.79" fill="#52921f" stroke="#1c3210" stroke-width="1"/>
<line x1="72.43" y1="278.69" x2="72.43" y2="279.34" stroke="#151515" stroke-width="1.2"/>
<line x1="69.83" y1="278.69" x2="75.03" y2="278.69" stroke="#151515" stroke-width="1.2"/>
<line x1="69.83" y1="279.34" x2="75.03" y2="279.34" stroke="#151515" stroke-width="1.2"/>
<text x="66.26" y="404.10" font-size="10.6" font-weight="bold" fill="#000">1d</text>
<rect x="92.15" y="267.30" width="9.80" height="120.00" fill="#52921f" stroke="#1c3210" stroke-width="1"/>
<line x1="97.05" y1="260.36" x2="97.05" y2="273.25" stroke="#151515" stroke-width="1.2"/>
<line x1="94.45" y1="260.36" x2="99.65" y2="260.36" stroke="#151515" stroke-width="1.2"/>
<line x1="94.45" y1="273.25" x2="99.65" y2="273.25" stroke="#151515" stroke-width="1.2"/>
<text x="91.03" y="404.10" font-size="10.6" font-weight="bold" fill="#000">2d</text>
<rect x="116.77" y="268.71" width="9.80" height="118.59" fill="#52921f" stroke="#1c3210" stroke-width="1"/>
<line x1="121.67" y1="264.38" x2="121.67" y2="272.04" stroke="#151515" stroke-width="1.2"/>
<line x1="119.07" y1="264.38" x2="124.27" y2="264.38" stroke="#151515" stroke-width="1.2"/>
<line x1="119.07" y1="272.04" x2="124.27" y2="272.04" stroke="#151515" stroke-width="1.2"/>
<text x="115.71" y="404.10" font-size="10.6" font-weight="bold" fill="#000">3d</text>
<rect x="141.39" y="269.52" width="9.80" height="117.78" fill="#52921f" stroke="#1c3210" stroke-width="1"/>
<line x1="146.29" y1="262.37" x2="146.29" y2="275.67" stroke="#151515" stroke-width="1.2"/>
<line x1="143.69" y1="262.37" x2="148.89" y2="262.37" stroke="#151515" stroke-width="1.2"/>
<line x1="143.69" y1="275.67" x2="148.89" y2="275.67" stroke="#151515" stroke-width="1.2"/>
<text x="140.37" y="404.10" font-size="10.6" font-weight="bold" fill="#000">4d</text>
<line x1="61.30" y1="411.40" x2="157.70" y2="411.40" stroke="#000" stroke-width="1.9"/>
<text x="53.79" y="426.50" font-size="10.7" font-weight="bold" fill="#000" textLength="107.01" lengthAdjust="spacingAndGlyphs">Days post-4Gy TBI</text>
<text transform="translate(12.20,386.10) rotate(-90)" font-size="13" font-weight="bold" fill="#000" textLength="133.73" lengthAdjust="spacingAndGlyphs">Percent of marrow area</text>
<path d="M67.05,271.00 L67.05,268.10 M67.05,271.00 L69.81,270.10 M67.05,271.00 L68.75,273.35 M67.05,271.00 L65.35,273.35 M67.05,271.00 L64.29,270.10 " stroke="#000" stroke-width="2.0" stroke-linecap="round" fill="none"/>
<path d="M76.95,271.00 L76.95,268.10 M76.95,271.00 L79.71,270.10 M76.95,271.00 L78.65,273.35 M76.95,271.00 L75.25,273.35 M76.95,271.00 L74.19,270.10 " stroke="#000" stroke-width="2.0" stroke-linecap="round" fill="none"/>
<path d="M91.75,255.00 L91.75,252.10 M91.75,255.00 L94.51,254.10 M91.75,255.00 L93.45,257.35 M91.75,255.00 L90.05,257.35 M91.75,255.00 L88.99,254.10 " stroke="#000" stroke-width="2.0" stroke-linecap="round" fill="none"/>
<path d="M101.35,255.00 L101.35,252.10 M101.35,255.00 L104.11,254.10 M101.35,255.00 L103.05,257.35 M101.35,255.00 L99.65,257.35 M101.35,255.00 L98.59,254.10 " stroke="#000" stroke-width="2.0" stroke-linecap="round" fill="none"/>
<path d="M116.75,257.50 L116.75,254.60 M116.75,257.50 L119.51,256.60 M116.75,257.50 L118.45,259.85 M116.75,257.50 L115.05,259.85 M116.75,257.50 L113.99,256.60 " stroke="#000" stroke-width="2.0" stroke-linecap="round" fill="none"/>
<path d="M126.35,257.50 L126.35,254.60 M126.35,257.50 L129.11,256.60 M126.35,257.50 L128.05,259.85 M126.35,257.50 L124.65,259.85 M126.35,257.50 L123.59,256.60 " stroke="#000" stroke-width="2.0" stroke-linecap="round" fill="none"/>
<path d="M141.15,256.00 L141.15,253.10 M141.15,256.00 L143.91,255.10 M141.15,256.00 L142.85,258.35 M141.15,256.00 L139.45,258.35 M141.15,256.00 L138.39,255.10 " stroke="#000" stroke-width="2.0" stroke-linecap="round" fill="none"/>
<path d="M150.95,256.00 L150.95,253.10 M150.95,256.00 L153.71,255.10 M150.95,256.00 L152.65,258.35 M150.95,256.00 L149.25,258.35 M150.95,256.00 L148.19,255.10 " stroke="#000" stroke-width="2.0" stroke-linecap="round" fill="none"/>
<text x="167.79" y="231.10" font-size="17.1" font-weight="bold" fill="#000" textLength="11.06" lengthAdjust="spacingAndGlyphs">E</text>
<text x="219.29" y="238.10" font-size="15.5" font-weight="bold" fill="#000" textLength="112.96" lengthAdjust="spacingAndGlyphs">Vascular niche</text>
<line x1="212.70" y1="388.00" x2="215.30" y2="388.00" stroke="#8e8e8e" stroke-width="1"/>
<text x="201.22" y="392.50" font-size="10.6" font-weight="normal" fill="#000">0</text>
<line x1="215.30" y1="367.91" x2="338.00" y2="367.91" stroke="#9e9e9e" stroke-width="1"/>
<line x1="212.70" y1="367.91" x2="215.30" y2="367.91" stroke="#8e8e8e" stroke-width="1"/>
<text x="195.32" y="372.41" font-size="10.6" font-weight="normal" fill="#000">10</text>
<line x1="215.30" y1="347.82" x2="338.00" y2="347.82" stroke="#9e9e9e" stroke-width="1"/>
<line x1="212.70" y1="347.82" x2="215.30" y2="347.82" stroke="#8e8e8e" stroke-width="1"/>
<text x="195.32" y="352.32" font-size="10.6" font-weight="normal" fill="#000">20</text>
<line x1="215.30" y1="327.73" x2="338.00" y2="327.73" stroke="#9e9e9e" stroke-width="1"/>
<line x1="212.70" y1="327.73" x2="215.30" y2="327.73" stroke="#8e8e8e" stroke-width="1"/>
<text x="195.32" y="332.23" font-size="10.6" font-weight="normal" fill="#000">30</text>
<line x1="215.30" y1="307.64" x2="338.00" y2="307.64" stroke="#9e9e9e" stroke-width="1"/>
<line x1="212.70" y1="307.64" x2="215.30" y2="307.64" stroke="#8e8e8e" stroke-width="1"/>
<text x="195.32" y="312.14" font-size="10.6" font-weight="normal" fill="#000">40</text>
<line x1="215.30" y1="287.55" x2="338.00" y2="287.55" stroke="#9e9e9e" stroke-width="1"/>
<line x1="212.70" y1="287.55" x2="215.30" y2="287.55" stroke="#8e8e8e" stroke-width="1"/>
<text x="195.32" y="292.05" font-size="10.6" font-weight="normal" fill="#000">50</text>
<line x1="215.30" y1="267.46" x2="338.00" y2="267.46" stroke="#9e9e9e" stroke-width="1"/>
<line x1="212.70" y1="267.46" x2="215.30" y2="267.46" stroke="#8e8e8e" stroke-width="1"/>
<text x="195.32" y="271.96" font-size="10.6" font-weight="normal" fill="#000">60</text>
<line x1="215.30" y1="247.37" x2="338.00" y2="247.37" stroke="#9e9e9e" stroke-width="1"/>
<line x1="212.70" y1="247.37" x2="215.30" y2="247.37" stroke="#8e8e8e" stroke-width="1"/>
<text x="195.32" y="251.87" font-size="10.6" font-weight="normal" fill="#000">70</text>
<line x1="215.30" y1="246.87" x2="215.30" y2="388.50" stroke="#8e8e8e" stroke-width="1"/>
<line x1="215.30" y1="388.00" x2="338.00" y2="388.00" stroke="#8e8e8e" stroke-width="1"/>
<line x1="215.30" y1="388.00" x2="215.30" y2="390.80" stroke="#8e8e8e" stroke-width="1"/>
<line x1="239.84" y1="388.00" x2="239.84" y2="390.80" stroke="#8e8e8e" stroke-width="1"/>
<line x1="264.38" y1="388.00" x2="264.38" y2="390.80" stroke="#8e8e8e" stroke-width="1"/>
<line x1="288.92" y1="388.00" x2="288.92" y2="390.80" stroke="#8e8e8e" stroke-width="1"/>
<line x1="313.46" y1="388.00" x2="313.46" y2="390.80" stroke="#8e8e8e" stroke-width="1"/>
<line x1="338.00" y1="388.00" x2="338.00" y2="390.80" stroke="#8e8e8e" stroke-width="1"/>
<rect x="222.17" y="305.83" width="10.80" height="82.17" fill="#0c0c0c"/>
<line x1="227.57" y1="304.33" x2="227.57" y2="307.34" stroke="#151515" stroke-width="1.2"/>
<line x1="224.97" y1="304.33" x2="230.17" y2="304.33" stroke="#151515" stroke-width="1.2"/>
<line x1="224.97" y1="307.34" x2="230.17" y2="307.34" stroke="#151515" stroke-width="1.2"/>
<text x="217.37" y="406.00" font-size="10.6" font-weight="bold" fill="#000">0Gy</text>
<rect x="247.21" y="280.01" width="9.80" height="107.99" fill="#52921f" stroke="#1c3210" stroke-width="1"/>
<line x1="252.11" y1="275.90" x2="252.11" y2="283.13" stroke="#151515" stroke-width="1.2"/>
<line x1="249.51" y1="275.90" x2="254.71" y2="275.90" stroke="#151515" stroke-width="1.2"/>
<line x1="249.51" y1="283.13" x2="254.71" y2="283.13" stroke="#151515" stroke-width="1.2"/>
<text x="245.94" y="406.00" font-size="10.6" font-weight="bold" fill="#000">1d</text>
<rect x="271.75" y="280.42" width="9.80" height="107.58" fill="#52921f" stroke="#1c3210" stroke-width="1"/>
<line x1="276.65" y1="277.50" x2="276.65" y2="282.33" stroke="#151515" stroke-width="1.2"/>
<line x1="274.05" y1="277.50" x2="279.25" y2="277.50" stroke="#151515" stroke-width="1.2"/>
<line x1="274.05" y1="282.33" x2="279.25" y2="282.33" stroke="#151515" stroke-width="1.2"/>
<text x="270.63" y="406.00" font-size="10.6" font-weight="bold" fill="#000">2d</text>
<rect x="296.29" y="273.79" width="9.80" height="114.21" fill="#52921f" stroke="#1c3210" stroke-width="1"/>
<line x1="301.19" y1="271.28" x2="301.19" y2="275.30" stroke="#151515" stroke-width="1.2"/>
<line x1="298.59" y1="271.28" x2="303.79" y2="271.28" stroke="#151515" stroke-width="1.2"/>
<line x1="298.59" y1="275.30" x2="303.79" y2="275.30" stroke="#151515" stroke-width="1.2"/>
<text x="295.23" y="406.00" font-size="10.6" font-weight="bold" fill="#000">3d</text>
<rect x="320.83" y="281.82" width="9.80" height="106.18" fill="#52921f" stroke="#1c3210" stroke-width="1"/>
<line x1="325.73" y1="277.91" x2="325.73" y2="284.74" stroke="#151515" stroke-width="1.2"/>
<line x1="323.13" y1="277.91" x2="328.33" y2="277.91" stroke="#151515" stroke-width="1.2"/>
<line x1="323.13" y1="284.74" x2="328.33" y2="284.74" stroke="#151515" stroke-width="1.2"/>
<text x="319.81" y="406.00" font-size="10.6" font-weight="bold" fill="#000">4d</text>
<line x1="239.20" y1="411.70" x2="336.00" y2="411.70" stroke="#000" stroke-width="1.9"/>
<text x="231.69" y="426.50" font-size="10.7" font-weight="bold" fill="#000" textLength="107.21" lengthAdjust="spacingAndGlyphs">Days post-4Gy TBI</text>
<text transform="translate(177.00,365.01) rotate(-90)" font-size="13" font-weight="bold" fill="#000" textLength="87.80" lengthAdjust="spacingAndGlyphs">Percent of MKs</text>
<text transform="translate(190.80,387.75) rotate(-90)" font-size="13" font-weight="bold" fill="#000" textLength="137.25" lengthAdjust="spacingAndGlyphs">associated with vessels</text>
<line x1="225.80" y1="266.10" x2="251.80" y2="266.10" stroke="#000" stroke-width="1.9"/>
<line x1="275.40" y1="266.10" x2="301.90" y2="266.10" stroke="#000" stroke-width="1.9"/>
<line x1="301.90" y1="257.80" x2="328.50" y2="257.80" stroke="#000" stroke-width="1.9"/>
<path d="M233.65,259.90 L233.65,257.00 M233.65,259.90 L236.41,259.00 M233.65,259.90 L235.35,262.25 M233.65,259.90 L231.95,262.25 M233.65,259.90 L230.89,259.00 " stroke="#000" stroke-width="2.0" stroke-linecap="round" fill="none"/>
<path d="M244.45,259.90 L244.45,257.00 M244.45,259.90 L247.21,259.00 M244.45,259.90 L246.15,262.25 M244.45,259.90 L242.75,262.25 M244.45,259.90 L241.69,259.00 " stroke="#000" stroke-width="2.0" stroke-linecap="round" fill="none"/>
<path d="M288.10,260.10 L288.10,257.20 M288.10,260.10 L290.86,259.20 M288.10,260.10 L289.80,262.45 M288.10,260.10 L286.40,262.45 M288.10,260.10 L285.34,259.20 " stroke="#000" stroke-width="2.0" stroke-linecap="round" fill="none"/>
<path d="M315.55,252.70 L315.55,249.80 M315.55,252.70 L318.31,251.80 M315.55,252.70 L317.25,255.05 M315.55,252.70 L313.85,255.05 M315.55,252.70 L312.79,251.80 " stroke="#000" stroke-width="2.0" stroke-linecap="round" fill="none"/>
<text x="352.01" y="231.10" font-size="17.1" font-weight="bold" fill="#000" textLength="10.84" lengthAdjust="spacingAndGlyphs">F</text>
<text x="395.83" y="237.00" font-size="15.5" font-weight="bold" fill="#000" textLength="123.12" lengthAdjust="spacingAndGlyphs">Endosteal niche</text>
<line x1="393.70" y1="385.90" x2="396.30" y2="385.90" stroke="#8e8e8e" stroke-width="1"/>
<text x="381.72" y="390.40" font-size="10.6" font-weight="normal" fill="#000">0</text>
<line x1="396.30" y1="365.80" x2="518.80" y2="365.80" stroke="#9e9e9e" stroke-width="1"/>
<line x1="393.70" y1="365.80" x2="396.30" y2="365.80" stroke="#8e8e8e" stroke-width="1"/>
<text x="375.82" y="370.30" font-size="10.6" font-weight="normal" fill="#000">10</text>
<line x1="396.30" y1="345.70" x2="518.80" y2="345.70" stroke="#9e9e9e" stroke-width="1"/>
<line x1="393.70" y1="345.70" x2="396.30" y2="345.70" stroke="#8e8e8e" stroke-width="1"/>
<text x="375.82" y="350.20" font-size="10.6" font-weight="normal" fill="#000">20</text>
<line x1="396.30" y1="325.60" x2="518.80" y2="325.60" stroke="#9e9e9e" stroke-width="1"/>
<line x1="393.70" y1="325.60" x2="396.30" y2="325.60" stroke="#8e8e8e" stroke-width="1"/>
<text x="375.82" y="330.10" font-size="10.6" font-weight="normal" fill="#000">30</text>
<line x1="396.30" y1="305.50" x2="518.80" y2="305.50" stroke="#9e9e9e" stroke-width="1"/>
<line x1="393.70" y1="305.50" x2="396.30" y2="305.50" stroke="#8e8e8e" stroke-width="1"/>
<text x="375.82" y="310.00" font-size="10.6" font-weight="normal" fill="#000">40</text>
<line x1="396.30" y1="285.40" x2="518.80" y2="285.40" stroke="#9e9e9e" stroke-width="1"/>
<line x1="393.70" y1="285.40" x2="396.30" y2="285.40" stroke="#8e8e8e" stroke-width="1"/>
<text x="375.82" y="289.90" font-size="10.6" font-weight="normal" fill="#000">50</text>
<line x1="396.30" y1="265.30" x2="518.80" y2="265.30" stroke="#9e9e9e" stroke-width="1"/>
<line x1="393.70" y1="265.30" x2="396.30" y2="265.30" stroke="#8e8e8e" stroke-width="1"/>
<text x="375.82" y="269.80" font-size="10.6" font-weight="normal" fill="#000">60</text>
<line x1="396.30" y1="245.20" x2="518.80" y2="245.20" stroke="#9e9e9e" stroke-width="1"/>
<line x1="393.70" y1="245.20" x2="396.30" y2="245.20" stroke="#8e8e8e" stroke-width="1"/>
<text x="375.82" y="249.70" font-size="10.6" font-weight="normal" fill="#000">70</text>
<line x1="396.30" y1="244.70" x2="396.30" y2="386.40" stroke="#8e8e8e" stroke-width="1"/>
<line x1="396.30" y1="385.90" x2="518.80" y2="385.90" stroke="#8e8e8e" stroke-width="1"/>
<line x1="396.30" y1="385.90" x2="396.30" y2="388.70" stroke="#8e8e8e" stroke-width="1"/>
<line x1="420.80" y1="385.90" x2="420.80" y2="388.70" stroke="#8e8e8e" stroke-width="1"/>
<line x1="445.30" y1="385.90" x2="445.30" y2="388.70" stroke="#8e8e8e" stroke-width="1"/>
<line x1="469.80" y1="385.90" x2="469.80" y2="388.70" stroke="#8e8e8e" stroke-width="1"/>
<line x1="494.30" y1="385.90" x2="494.30" y2="388.70" stroke="#8e8e8e" stroke-width="1"/>
<line x1="518.80" y1="385.90" x2="518.80" y2="388.70" stroke="#8e8e8e" stroke-width="1"/>
<rect x="403.15" y="297.06" width="10.80" height="88.84" fill="#0c0c0c"/>
<line x1="408.55" y1="292.23" x2="408.55" y2="301.88" stroke="#151515" stroke-width="1.2"/>
<line x1="405.95" y1="292.23" x2="411.15" y2="292.23" stroke="#151515" stroke-width="1.2"/>
<line x1="405.95" y1="301.88" x2="411.15" y2="301.88" stroke="#151515" stroke-width="1.2"/>
<text x="398.35" y="403.00" font-size="10.6" font-weight="bold" fill="#000">0Gy</text>
<rect x="428.15" y="299.37" width="9.80" height="86.53" fill="#52921f" stroke="#1c3210" stroke-width="1"/>
<line x1="433.05" y1="292.23" x2="433.05" y2="305.50" stroke="#151515" stroke-width="1.2"/>
<line x1="430.45" y1="292.23" x2="435.65" y2="292.23" stroke="#151515" stroke-width="1.2"/>
<line x1="430.45" y1="305.50" x2="435.65" y2="305.50" stroke="#151515" stroke-width="1.2"/>
<text x="426.88" y="403.00" font-size="10.6" font-weight="bold" fill="#000">1d</text>
<rect x="452.65" y="258.76" width="9.80" height="127.13" fill="#52921f" stroke="#1c3210" stroke-width="1"/>
<line x1="457.55" y1="257.66" x2="457.55" y2="258.87" stroke="#151515" stroke-width="1.2"/>
<line x1="454.95" y1="257.66" x2="460.15" y2="257.66" stroke="#151515" stroke-width="1.2"/>
<line x1="454.95" y1="258.87" x2="460.15" y2="258.87" stroke="#151515" stroke-width="1.2"/>
<text x="451.53" y="403.00" font-size="10.6" font-weight="bold" fill="#000">2d</text>
<rect x="477.15" y="283.49" width="9.80" height="102.41" fill="#52921f" stroke="#1c3210" stroke-width="1"/>
<line x1="482.05" y1="276.56" x2="482.05" y2="289.42" stroke="#151515" stroke-width="1.2"/>
<line x1="479.45" y1="276.56" x2="484.65" y2="276.56" stroke="#151515" stroke-width="1.2"/>
<line x1="479.45" y1="289.42" x2="484.65" y2="289.42" stroke="#151515" stroke-width="1.2"/>
<text x="476.09" y="403.00" font-size="10.6" font-weight="bold" fill="#000">3d</text>
<rect x="501.65" y="274.84" width="9.80" height="111.06" fill="#52921f" stroke="#1c3210" stroke-width="1"/>
<line x1="506.55" y1="265.90" x2="506.55" y2="282.79" stroke="#151515" stroke-width="1.2"/>
<line x1="503.95" y1="265.90" x2="509.15" y2="265.90" stroke="#151515" stroke-width="1.2"/>
<line x1="503.95" y1="282.79" x2="509.15" y2="282.79" stroke="#151515" stroke-width="1.2"/>
<text x="500.63" y="403.00" font-size="10.6" font-weight="bold" fill="#000">4d</text>
<line x1="418.50" y1="411.40" x2="515.00" y2="411.40" stroke="#000" stroke-width="1.9"/>
<text x="410.69" y="426.50" font-size="10.7" font-weight="bold" fill="#000" textLength="107.62" lengthAdjust="spacingAndGlyphs">Days post-4Gy TBI</text>
<text transform="translate(357.10,376.81) rotate(-90)" font-size="13" font-weight="bold" fill="#000" textLength="125.75" lengthAdjust="spacingAndGlyphs">Percent of MKs within</text>
<text transform="translate(370.60,373.46) rotate(-90)" font-size="13" font-weight="bold" fill="#000" textLength="120.11" lengthAdjust="spacingAndGlyphs">100µm of endosteum</text>
<line x1="430.00" y1="252.90" x2="456.90" y2="252.90" stroke="#000" stroke-width="1.9"/>
<line x1="459.20" y1="252.90" x2="485.80" y2="252.90" stroke="#000" stroke-width="1.9"/>
<path d="M439.45,248.20 L439.45,245.30 M439.45,248.20 L442.21,247.30 M439.45,248.20 L441.15,250.55 M439.45,248.20 L437.75,250.55 M439.45,248.20 L436.69,247.30 " stroke="#000" stroke-width="2.0" stroke-linecap="round" fill="none"/>
<path d="M449.85,248.20 L449.85,245.30 M449.85,248.20 L452.61,247.30 M449.85,248.20 L451.55,250.55 M449.85,248.20 L448.15,250.55 M449.85,248.20 L447.09,247.30 " stroke="#000" stroke-width="2.0" stroke-linecap="round" fill="none"/>
<path d="M472.30,248.20 L472.30,245.30 M472.30,248.20 L475.06,247.30 M472.30,248.20 L474.00,250.55 M472.30,248.20 L470.60,250.55 M472.30,248.20 L469.54,247.30 " stroke="#000" stroke-width="2.0" stroke-linecap="round" fill="none"/>
</svg>
</body></html>
